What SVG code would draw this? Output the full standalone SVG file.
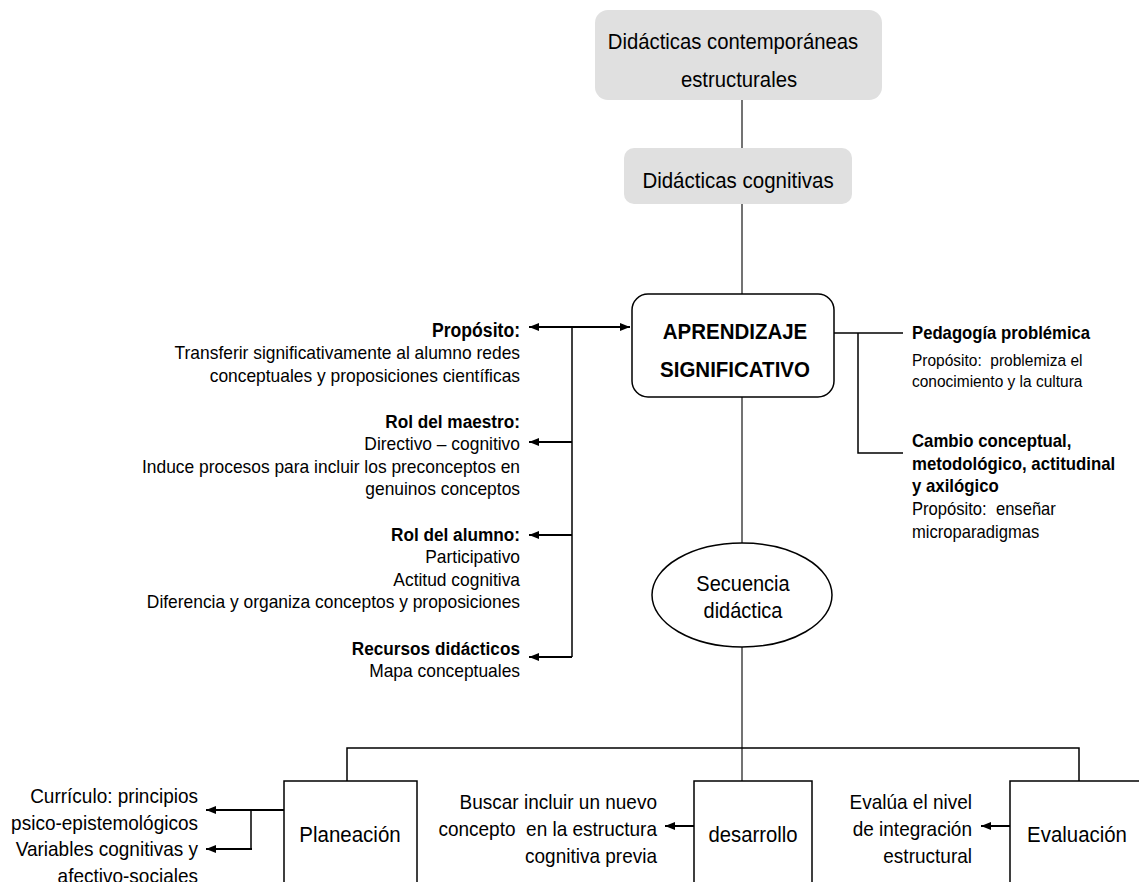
<svg xmlns="http://www.w3.org/2000/svg" width="1139" height="882" viewBox="0 0 1139 882">
<style>
.t{font-family:"Liberation Sans",Arial,sans-serif;fill:#000}
.b{font-weight:bold}
.gray{fill:#e0e0e0;stroke:none}
.box{fill:#fff;stroke:#000;stroke-width:1.5}
.gl{stroke:#444;stroke-width:1.5;fill:none}
.ln{stroke:#000;stroke-width:1.5;fill:none}
.ar{stroke:#000;stroke-width:2;fill:none;marker-end:url(#ah)}
</style>
<defs>
<marker id="ah" markerWidth="10" markerHeight="8" refX="10" refY="4" orient="auto" markerUnits="userSpaceOnUse">
<path d="M0,0 L10,4 L0,8 Z" fill="#000"/>
</marker>
</defs>
<rect width="1139" height="882" fill="#fff"/>

<g id="connectors">
<line class="gl" x1="742" y1="100" x2="742" y2="148"/>
<line class="gl" x1="742" y1="204" x2="742" y2="294"/>
<line class="gl" x1="742" y1="397" x2="742" y2="543"/>
<line class="gl" x1="742" y1="647" x2="742" y2="781"/>
<polyline class="ln" points="347,781 347,748 1079,748 1079,781"/>
<line class="ln" x1="572" y1="327" x2="572" y2="657"/>
<line class="ar" x1="572" y1="327" x2="529" y2="327"/>
<line class="ar" x1="572" y1="327" x2="630" y2="327"/>
<line class="ar" x1="572" y1="442" x2="529" y2="442"/>
<line class="ar" x1="572" y1="535" x2="529" y2="535"/>
<line class="ar" x1="572" y1="657" x2="529" y2="657"/>
<line class="ln" x1="834" y1="333" x2="903" y2="333"/>
<polyline class="ln" points="858,333 858,453 903,453"/>
<line class="ar" x1="284" y1="810" x2="206" y2="810"/>
<polyline class="ln" points="251,810 251,849"/>
<line class="ar" x1="252" y1="849" x2="206" y2="849"/>
<line class="ar" x1="694" y1="826" x2="665" y2="826"/>
<line class="ar" x1="1010" y1="826" x2="981" y2="826"/>
</g>

<g id="n-contemporaneas">
<rect class="gray" x="595" y="10" width="287" height="90" rx="13"/>
<text class="t" font-size="20.3" text-anchor="middle" transform="translate(733,49) scale(1,1.1)"><tspan x="0" y="0">Didácticas contemporáneas</tspan><tspan x="6" dy="34.5">estructurales</tspan></text>
</g>

<g id="n-cognitivas">
<rect class="gray" x="624" y="148" width="228" height="56" rx="10"/>
<text class="t" font-size="20.5" text-anchor="middle" transform="translate(738,188) scale(1,1.1)">Didácticas cognitivas</text>
</g>

<g id="n-aprendizaje">
<rect class="box" x="632" y="294" width="202" height="103" rx="16"/>
<text class="t b" font-size="20.5" text-anchor="middle" transform="translate(735,339) scale(1,1.1)"><tspan x="0" y="0">APRENDIZAJE</tspan><tspan x="0" dy="35">SIGNIFICATIVO</tspan></text>
</g>

<g id="n-proposito">
<text class="t" font-size="17.4" text-anchor="end" transform="translate(520,337) scale(1,1.1)"><tspan class="b" font-size="17.6" x="0" y="0">Propósito:</tspan><tspan x="0" dy="20.45">Transferir significativamente al alumno redes</tspan><tspan x="0" dy="20.45">conceptuales y proposiciones científicas</tspan></text>
</g>

<g id="n-maestro">
<text class="t" font-size="17.4" text-anchor="end" transform="translate(520,428) scale(1,1.1)"><tspan class="b" font-size="17.2" x="0" y="0">Rol del maestro:</tspan><tspan x="0" dy="20.3">Directivo – cognitivo</tspan><tspan x="0" dy="20.3">Induce procesos para incluir los preconceptos en</tspan><tspan x="0" dy="20.3">genuinos conceptos</tspan></text>
</g>

<g id="n-alumno">
<text class="t" font-size="17.4" text-anchor="end" transform="translate(520,541) scale(1,1.1)"><tspan class="b" font-size="17.2" x="0" y="0">Rol del alumno:</tspan><tspan x="0" dy="20.45">Participativo</tspan><tspan x="0" dy="20.45">Actitud cognitiva</tspan><tspan x="0" dy="20.45">Diferencia y organiza conceptos y proposiciones</tspan></text>
</g>

<g id="n-recursos">
<text class="t" font-size="17.4" text-anchor="end" transform="translate(520,655) scale(1,1.1)"><tspan class="b" font-size="17.2" x="0" y="0">Recursos didácticos</tspan><tspan x="0" dy="20.45">Mapa conceptuales</tspan></text>
</g>

<g id="n-pedagogia">
<text class="t" font-size="15.5" transform="translate(912,339) scale(1,1.1)"><tspan class="b" font-size="16.7" x="0" y="0">Pedagogía problémica</tspan><tspan x="0" dy="24.5" xml:space="preserve">Propósito:  problemiza el</tspan><tspan x="0" dy="19">conocimiento y la cultura</tspan></text>
</g>

<g id="n-cambio">
<text class="t" font-size="16.6" transform="translate(912,447) scale(1,1.1)"><tspan class="b" font-size="16.8" x="0" y="0">Cambio conceptual,</tspan><tspan class="b" font-size="16.8" x="0" dy="20.6">metodológico, actitudinal</tspan><tspan class="b" font-size="16.8" x="0" dy="20.6">y axilógico</tspan><tspan x="0" dy="20.6" xml:space="preserve">Propósito:  enseñar</tspan><tspan x="0" dy="20.6">microparadigmas</tspan></text>
</g>

<g id="n-secuencia">
<ellipse class="box" cx="742" cy="595" rx="90" ry="52"/>
<text class="t" font-size="20" text-anchor="middle" transform="translate(743,591) scale(1,1.1)"><tspan x="0" y="0">Secuencia</tspan><tspan x="0" dy="24.5">didáctica</tspan></text>
</g>

<g id="n-planeacion">
<rect class="box" x="284" y="781" width="133" height="130"/>
<text class="t" font-size="20.5" text-anchor="middle" transform="translate(350,842) scale(1,1.1)">Planeación</text>
</g>

<g id="n-curriculo">
<text class="t" font-size="19" text-anchor="end" transform="translate(198,803) scale(1,1.1)"><tspan x="0" y="0">Currículo: principios</tspan><tspan x="0" dy="24.3">psico-epistemológicos</tspan><tspan x="0" dy="24.3">Variables cognitivas y</tspan><tspan x="0" dy="24.3">afectivo-sociales</tspan></text>
</g>

<g id="n-desarrollo">
<rect class="box" x="694" y="781" width="118" height="130"/>
<text class="t" font-size="20.3" text-anchor="middle" transform="translate(753,842) scale(1,1.1)">desarrollo</text>
</g>

<g id="n-buscar">
<text class="t" font-size="19" text-anchor="end" transform="translate(657,809) scale(1,1.1)"><tspan x="0" y="0">Buscar incluir un nuevo</tspan><tspan x="0" dy="24.5" xml:space="preserve">concepto  en la estructura</tspan><tspan x="0" dy="24.5">cognitiva previa</tspan></text>
</g>

<g id="n-evaluacion">
<rect class="box" x="1010" y="781" width="135" height="130"/>
<text class="t" font-size="20.4" text-anchor="middle" transform="translate(1077,842) scale(1,1.1)">Evaluación</text>
</g>

<g id="n-evalua">
<text class="t" font-size="19" text-anchor="end" transform="translate(972,809) scale(1,1.1)"><tspan x="0" y="0">Evalúa el nivel</tspan><tspan x="0" dy="24.5">de integración</tspan><tspan x="0" dy="24.5">estructural</tspan></text>
</g>
</svg>
